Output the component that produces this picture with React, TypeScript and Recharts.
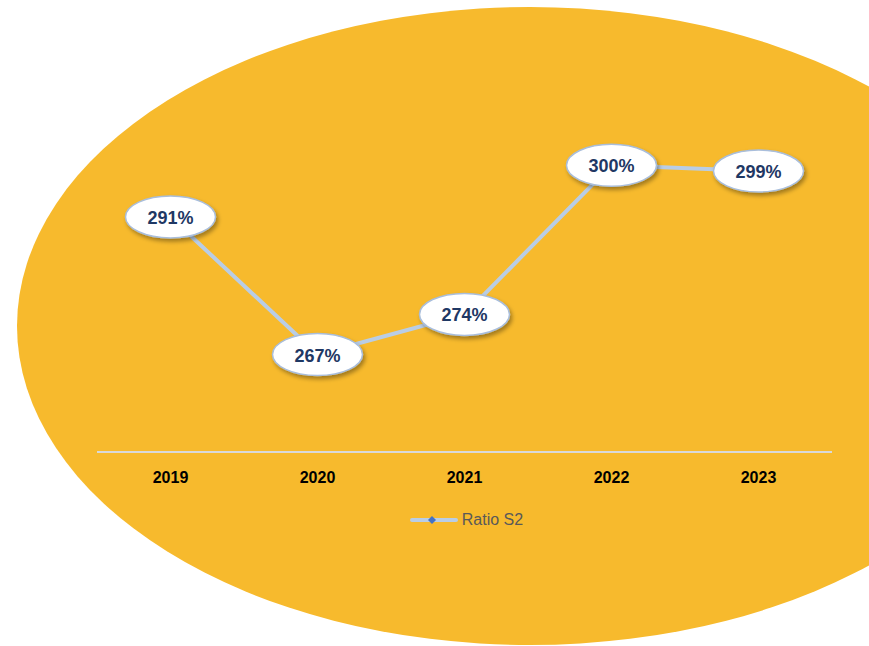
// Ratio S2 line chart on a big yellow ellipse, with bubble data labels.
import { LineChart, Line, XAxis, YAxis, LabelList } from 'recharts';

const years = ['2019', '2020', '2021', '2022', '2023'];
const ratioS2 = [291, 267, 274, 300, 299];

const YELLOW = '#F7BA2D';
const LINE = '#B9CDE5';
const NAVY = '#1F3864';
const FONT = '"Liberation Sans", Arial, sans-serif';

const data = years.map((year, i) => ({ year, ratio: ratioS2[i] }));

function Bubble(props: any) {
  const { x, y, value } = props;
  return (
    <g>
      <ellipse
        cx={x}
        cy={y}
        rx={45}
        ry={21}
        fill="#ffffff"
        stroke="#A9BEDC"
        strokeWidth={1.5}
        filter="url(#bubbleShadow)"
      />
      <text
        x={x}
        y={y + 1}
        textAnchor="middle"
        dominantBaseline="central"
        fill={NAVY}
        fontSize={18}
        fontWeight={700}
        fontFamily={FONT}
      >
        {`${value}%`}
      </text>
    </g>
  );
}

// legend drawn as a plain div so it takes no room from the plot area
function LegendBox() {
  return (
    <div
      style={{
        position: 'absolute',
        top: 511,
        left: 32,
        width: 869,
        display: 'flex',
        justifyContent: 'center',
        alignItems: 'center',
        fontFamily: FONT,
        fontSize: 16,
        color: '#595959',
      }}
    >
      <svg width={48} height={12} style={{ marginRight: 4 }}>
        <line x1={2} y1={6} x2={46} y2={6} stroke={LINE} strokeWidth={4} strokeLinecap="round" />
        <polygon points="22,2 26,6 22,10 18,6" fill="#4472C4" />
      </svg>
      <span>Ratio S2</span>
    </div>
  );
}

export default function App() {
  return (
    <div style={{ position: 'absolute', left: 0, top: 0, width: 869, height: 646, background: '#fff', overflow: 'hidden' }}>
      <svg width={869} height={646} style={{ position: 'absolute', left: 0, top: 0 }}>
        <defs>
          <filter id="bubbleShadow" x="-20%" y="-30%" width="150%" height="170%">
            <feDropShadow dx={2} dy={3} stdDeviation={2} floodColor="#000" floodOpacity={0.35} />
          </filter>
        </defs>
        <ellipse cx={530} cy={326} rx={513} ry={319} fill={YELLOW} />
      </svg>
      <div style={{ position: 'absolute', left: 0, top: 0 }}>
        {/* bottom margin + 30px x-axis height puts the axis line at y=452 */}
        <LineChart width={869} height={646} data={data} margin={{ top: 108, right: 37, bottom: 164, left: 97 }}>
          <XAxis
            dataKey="year"
            padding={{ left: 73.5, right: 73.5 }}
            axisLine={{ stroke: '#D9D9D9', strokeWidth: 2 }}
            tickLine={false}
            tickMargin={14}
            tick={{ fill: '#000', fontSize: 16, fontWeight: 700, fontFamily: FONT }}
          />
          <YAxis hide domain={[250, 310]} />
          <Line
            type="linear"
            dataKey="ratio"
            name="Ratio S2"
            stroke={LINE}
            strokeWidth={4}
            dot={false}
            isAnimationActive={false}
          >
            <LabelList dataKey="ratio" content={Bubble} />
          </Line>
        </LineChart>
      </div>
      <LegendBox />
    </div>
  );
}
